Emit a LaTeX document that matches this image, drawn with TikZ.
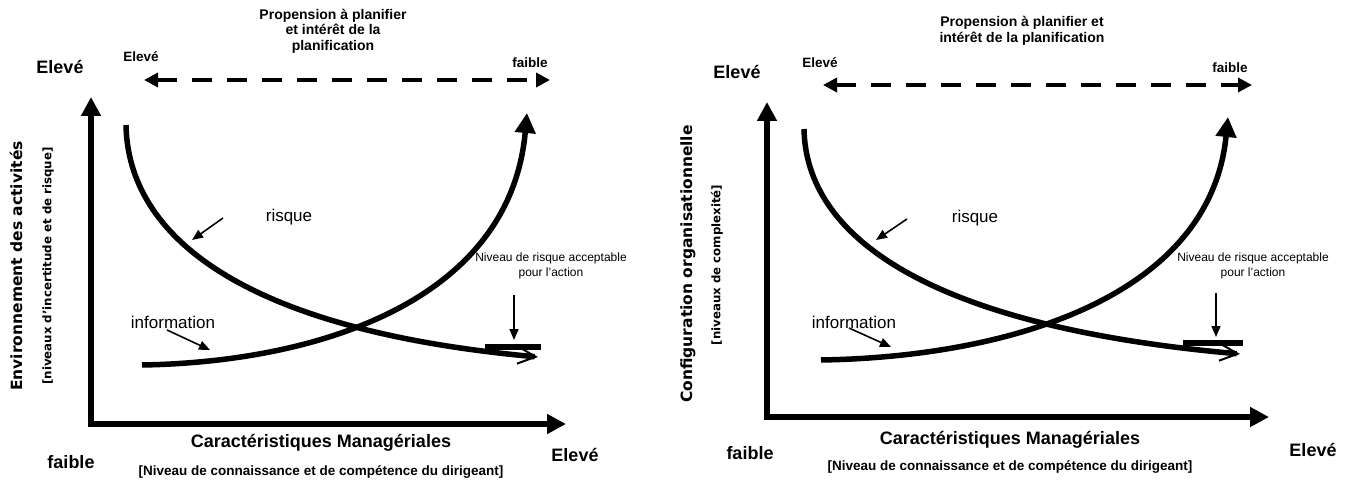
\documentclass[tikz,border=0pt]{standalone}
\usepackage{fontspec}
\setmainfont{Liberation Sans}
\newfontfamily\verdana{DejaVu Sans}
\usetikzlibrary{arrows.meta, positioning}

\begin{document}
\begin{tikzpicture}[
    x=1pt, y=-1pt,
    every node/.style={inner sep=1pt, align=center},
    axisline/.style={line width=6pt,
        {Triangle[length=19pt,width=19pt]}-{Triangle[length=19pt,width=19pt]}},
    curvestyle/.style={line width=5.5pt},
    riskend/.style={-{Straight Barb[length=18pt,width=17pt,line width=2pt]}},
    infoend/.style={-{Triangle[length=20pt,width=20pt]}},
    dasharrow/.style={line width=4pt, dash pattern=on 20pt off 15pt,
        {Triangle[length=14pt,width=14pt]}-{Triangle[length=14pt,width=14pt]}},
    pointer/.style={line width=1.6pt, -{Triangle[length=11pt,width=9pt]}},
    levelbar/.style={line width=6pt},
    heading/.style={font=\bfseries\fontsize{14}{15.5}\selectfont},
    bigtext/.style={font=\bfseries\fontsize{18}{20}\selectfont},
    smalltext/.style={font=\bfseries\fontsize{13.5}{15}\selectfont},
    curvelabel/.style={font=\fontsize{17}{19}\selectfont},
    note/.style={font=\fontsize{12}{15}\selectfont},
    xname/.style={font=\bfseries\fontsize{18}{20}\selectfont},
    xsub/.style={font=\bfseries\fontsize{13.5}{15}\selectfont},
    yname/.style={font=\verdana\bfseries\fontsize{15.5}{17}\selectfont, rotate=90},
    ysub/.style={font=\verdana\bfseries\fontsize{11.8}{13}\selectfont, rotate=90}
]
\useasboundingbox (0,0) rectangle (1353,484);

% ------------------------
% Left panel
% ------------------------
\coordinate (lO) at (91,424);
\coordinate (lY) at (91,97);
\coordinate (lX) at (566,424);
\draw[axisline] (lY) -- (lO) -- (lX);

\node[heading] (lTitle) at (333,31)
{Propension à planifier\\
et intérêt de la\\
planification};

\coordinate (lDa) at (144,80);
\coordinate (lDb) at (550,80);
\draw[dasharrow] (lDa) -- (lDb);
\node[smalltext] (lHigh) at (141,57) {Elevé};
\node[smalltext] (lLow) at (530,63) {faible};

% curves
\coordinate (lR0) at (126,125);
\coordinate (lR1) at (538,357);
\draw[curvestyle, riskend] (lR0) .. controls (128,235) and (240,330) .. (lR1);

\coordinate (lI0) at (142,365);
\coordinate (lI1) at (527,113);
\draw[curvestyle, infoend] (lI0) .. controls (320,362) and (510,300) .. (lI1);

\node[curvelabel] (lRisk) at (289,217) {risque};
\coordinate (lRa) at (223,218);
\coordinate (lRb) at (192,240);
\draw[pointer] (lRa) -- (lRb);

\node[curvelabel] (lInfo) at (173,322) {information};
\coordinate (lIa) at (167,330);
\coordinate (lIb) at (210,350);
\draw[pointer] (lIa) -- (lIb);

\node[note] (lLevel) at (551,265.5)
{Niveau de risque acceptable\\
pour l’action};
\coordinate (lNa) at (514,295);
\coordinate (lNb) at (514,340);
\draw[pointer] (lNa) -- (lNb);
\coordinate (lB0) at (485,347);
\coordinate (lB1) at (541,347);
\draw[levelbar] (lB0) -- (lB1);

% axis labels
\node[bigtext] (lYhigh) at (60,67) {Elevé};
\node[bigtext] (lXlow) at (71,462) {faible};
\node[bigtext] (lXhigh) at (575,455) {Elevé};
\node[xname] (lXname) at (321,443) {Caractéristiques Managériales};
\node[xsub] (lXsub) [below=12pt of lXname]
{[Niveau de connaissance et de compétence du dirigeant]};
\node[yname] (lYname) at (16,266) {Environnement des activités};
\node[ysub] (lYsub) at (48,266) {[niveaux d’incertitude et de risque]};

% ------------------------
% Right panel
% ------------------------
\coordinate (rO) at (767,417);
\coordinate (rY) at (767,102);
\coordinate (rX) at (1269,417);
\draw[axisline] (rY) -- (rO) -- (rX);

\node[heading] (rTitle) at (1022,31)
{Propension à planifier et\\
intérêt de la planification};

\coordinate (rDa) at (823,85);
\coordinate (rDb) at (1252,85);
\draw[dasharrow] (rDa) -- (rDb);
\node[smalltext] (rHigh) at (820,63) {Elevé};
\node[smalltext] (rLow) at (1230,68) {faible};

% curves
\coordinate (rR0) at (804,129);
\coordinate (rR1) at (1240,354);
\draw[curvestyle, riskend] (rR0) .. controls (806,235) and (924,326) .. (rR1);

\coordinate (rI0) at (821,360);
\coordinate (rI1) at (1228,117);
\draw[curvestyle, infoend] (rI0) .. controls (1009,357) and (1210,297) .. (rI1);

\node[curvelabel] (rRisk) at (975,218) {risque};
\coordinate (rRa) at (907,219);
\coordinate (rRb) at (876,240);
\draw[pointer] (rRa) -- (rRb);

\node[curvelabel] (rInfo) at (854,322) {information};
\coordinate (rIa) at (849,328);
\coordinate (rIb) at (891,347);
\draw[pointer] (rIa) -- (rIb);

\node[note] (rLevel) at (1253,265.5)
{Niveau de risque acceptable\\
pour l’action};
\coordinate (rNa) at (1216,293);
\coordinate (rNb) at (1216,337);
\draw[pointer] (rNa) -- (rNb);
\coordinate (rB0) at (1183,343);
\coordinate (rB1) at (1243,343);
\draw[levelbar] (rB0) -- (rB1);

% axis labels
\node[bigtext] (rYhigh) at (737,72) {Elevé};
\node[bigtext] (rXlow) at (750,453) {faible};
\node[bigtext] (rXhigh) at (1313,450) {Elevé};
\node[xname] (rXname) at (1010,440) {Caractéristiques Managériales};
\node[xsub] (rXsub) [below=10pt of rXname]
{[Niveau de connaissance et de compétence du dirigeant]};
\node[yname] (rYname) at (688,264) {Configuration organisationnelle};
\node[ysub] (rYsub) at (717,265) {[niveaux de complexité]};

\end{tikzpicture}
\end{document}
